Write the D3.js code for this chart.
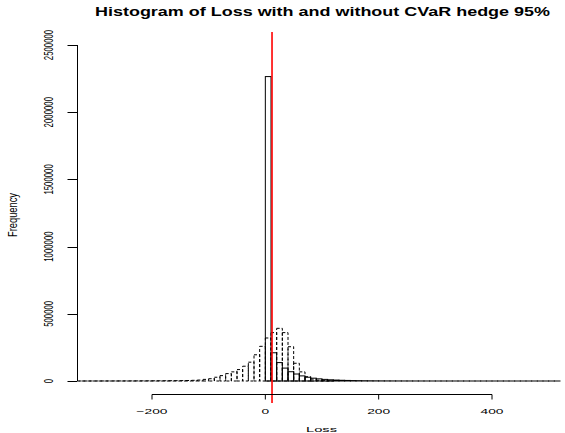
<!DOCTYPE html>
<meta charset="utf-8">
<style>
  body { margin: 0; background: #fff; }
  svg { display: block; }
  text { font-family: "Liberation Sans", Arial, sans-serif; fill: #000; }
</style>
<body>
<svg></svg>
<script src="https://cdn.jsdelivr.net/npm/d3@7"></script>
<script>

// DATA ----------------------------------------------------------------
var binWidth = 10;

// loss without hedge (dashed), bins start at -330
var unhedgedStart = -330;
var unhedgedCounts = [
  100, 100, 150, 200, 250, 300, 350, 450, 550, 650,          // -330 .. -240
  800, 950, 1100, 1300, 1500, 1800, 2100, 2500, 3000, 3700,  // -230 .. -140
  5000, 7000, 12000, 17000, 28000, 40000, 55000, 68000, 85000, 110000, // -130 .. -40
  140000, 195000, 258000,                                    // -30 .. -10
  320000, 360000, 392000, 360000, 255000, 132000, 68000, 32000, 14000, 6000, // 0 .. 90
  2500, 1000                                                 // 100 .. 110
];

// loss with CVaR hedge (solid), bins start at 0
var hedgedStart = 0;
var hedgedCounts = [
  2265000, 210000, 137000, 96000, 69000, 52000, 38000, 28000, 21000, 16000,
  12000, 9000, 7000, 5400, 4200, 3300, 2600, 2000, 1600, 1300,
  1000, 800, 650, 500, 400, 320, 260, 210, 170, 140,
  110, 90, 70, 55, 45, 35, 28, 22, 18, 14,
  11, 9, 7, 6, 5, 4, 3, 3, 2, 2, 1, 1
];

var cvarLevel = 11.8;                 // red line
var xTicks = [-200, 0, 200, 400];
var yTicks = [0, 500000, 1000000, 1500000, 2000000, 2500000];

var titleText = "Histogram of Loss with and without CVaR hedge 95%";
var xLabel = "Loss";
var yLabel = "Frequency";

// SETUP ---------------------------------------------------------------
var width = 565, height = 433;
var svg = d3.select("svg")
  .attr("width", width)
  .attr("height", height);

var x = d3.scaleLinear().domain([-200, 400]).range([152, 492]);
var y = d3.scaleLinear().domain([0, 2500000]).range([381, 45]);

var fmt = d3.format("d");

// turn counts into bin objects
function makeBins(start, counts)
{
  return counts.map(function(c, i) {
    return { x0: start + i * binWidth, x1: start + (i + 1) * binWidth, n: c };
  });
}

// draws a histogram as outlined rects (no fill), like R hist()
function drawHist(bins, dash)
{
  var g = svg.append("g");
  g.selectAll("rect")
    .data(bins)
    .enter()
    .append("rect")
    .attr("x", function(d) { return x(d.x0); })
    .attr("width", function(d) { return x(d.x1) - x(d.x0); })
    .attr("y", function(d) { return y(d.n); })
    .attr("height", function(d) { return y(0) - y(d.n); })
    .attr("fill", "none")
    .attr("stroke", "#000")
    .attr("stroke-width", 1)
    .attr("stroke-dasharray", dash);
}

// stretches/squeezes a label so it matches the picture's aspect
function squash(sel, factor)
{
  sel.each(function() {
    var w = this.getComputedTextLength();
    d3.select(this)
      .attr("textLength", w * factor)
      .attr("lengthAdjust", "spacingAndGlyphs");
  });
}

// HISTOGRAMS ----------------------------------------------------------
drawHist(makeBins(unhedgedStart, unhedgedCounts), "3,2");
drawHist(makeBins(hedgedStart, hedgedCounts), null);

// red CVaR line
svg.append("line")
  .attr("x1", x(cvarLevel)).attr("x2", x(cvarLevel))
  .attr("y1", 32).attr("y2", 403)
  .attr("stroke", "#ff0000")
  .attr("stroke-width", 1.6);

// X AXIS --------------------------------------------------------------
var xAxis = svg.append("g");
xAxis.append("line")
  .attr("x1", x(xTicks[0])).attr("x2", x(xTicks[xTicks.length - 1]))
  .attr("y1", 394.5).attr("y2", 394.5)
  .attr("stroke", "#000");
xAxis.selectAll(".xt")
  .data(xTicks)
  .enter()
  .append("line")
  .attr("x1", function(d) { return x(d); })
  .attr("x2", function(d) { return x(d); })
  .attr("y1", 394.5).attr("y2", 399.5)
  .attr("stroke", "#000");
var xLabs = xAxis.selectAll(".xl")
  .data(xTicks)
  .enter()
  .append("text")
  .attr("x", function(d) { return x(d); })
  .attr("y", 413.5)
  .attr("text-anchor", "middle")
  .attr("font-size", 8)
  .text(function(d) { return d < 0 ? "\u2212" + fmt(-d) : fmt(d); });
squash(xLabs, 1.72);

// Y AXIS --------------------------------------------------------------
var yAxis = svg.append("g");
yAxis.append("line")
  .attr("x1", 77.5).attr("x2", 77.5)
  .attr("y1", y(yTicks[0])).attr("y2", y(yTicks[yTicks.length - 1]))
  .attr("stroke", "#000");
yAxis.selectAll(".yt")
  .data(yTicks)
  .enter()
  .append("line")
  .attr("x1", 67.5).attr("x2", 77.5)
  .attr("y1", function(d) { return Math.round(y(d)) + 0.5; })
  .attr("y2", function(d) { return Math.round(y(d)) + 0.5; })
  .attr("stroke", "#000");
var yLabs = yAxis.selectAll(".yl")
  .data(yTicks)
  .enter()
  .append("text")
  .attr("transform", function(d) { return "translate(53," + y(d) + ") rotate(-90)"; })
  .attr("text-anchor", "middle")
  .attr("font-size", 13)
  .text(function(d) { return fmt(d); });
squash(yLabs, 0.6);

// TITLES --------------------------------------------------------------
svg.append("text")
  .attr("x", 322.5)
  .attr("y", 16)
  .attr("text-anchor", "middle")
  .attr("font-size", 12)
  .attr("font-weight", "bold")
  .attr("textLength", 455)
  .attr("lengthAdjust", "spacingAndGlyphs")
  .text(titleText);

svg.append("text")
  .attr("x", 321.5)
  .attr("y", 431.5)
  .attr("text-anchor", "middle")
  .attr("font-size", 8)
  .attr("textLength", 31)
  .attr("lengthAdjust", "spacingAndGlyphs")
  .text(xLabel);

svg.append("text")
  .attr("transform", "translate(16.8,215) rotate(-90)")
  .attr("text-anchor", "middle")
  .attr("font-size", 12.5)
  .attr("textLength", 44)
  .attr("lengthAdjust", "spacingAndGlyphs")
  .text(yLabel);

</script>
</body>
